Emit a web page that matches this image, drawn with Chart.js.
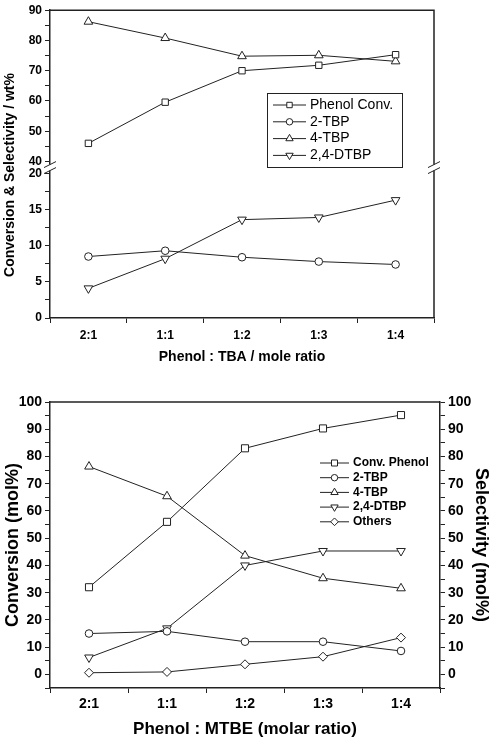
<!DOCTYPE html>
<html>
<head>
<meta charset="utf-8">
<script src="https://cdn.jsdelivr.net/npm/chart.js@4"></script>
<style>
  html, body { margin: 0; padding: 0; background: #fff; }
  #wrap { position: relative; width: 490px; height: 741px; }
  canvas { position: absolute; left: 0; }
  #topChart { top: 0; }
  #bottomChart { top: 375px; }
</style>
</head>
<body>
<div id="wrap">
  <canvas id="topChart" width="490" height="375"></canvas>
  <canvas id="bottomChart" width="490" height="366"></canvas>
</div>
<script>
const ratios = ["2:1", "1:1", "1:2", "1:3", "1:4"];

// top panel: Phenol : TBA, wt%
const tbaPhenolConv = [46, 59.6, 70, 71.8, 75.3];
const tba2TBP = [8.5, 9.3, 8.4, 7.8, 7.4];
const tba4TBP = [86.2, 80.8, 74.8, 75.1, 73.1];
const tbaDTBP = [4.1, 8.2, 13.6, 13.9, 16.3];

// broken y axis of the top panel: lower part 0-20, upper part 40-90
const lowTicks = [0, 2.5, 5, 7.5, 10, 12.5, 15, 17.5, 20];
const highTicks = [40, 45, 50, 55, 60, 65, 70, 75, 80, 85, 90];

// bottom panel: Phenol : MTBE, mol%
const mtbeConvPhenol = [32, 56, 83, 90.3, 95.2];
const mtbe2TBP = [15, 15.8, 12, 12, 8.6];
const mtbe4TBP = [76.3, 65.4, 43.6, 35.3, 31.6];
const mtbeDTBP = [6.2, 16.9, 40, 45.3, 45.3];
const mtbeOthers = [0.6, 0.9, 3.7, 6.5, 13.5];

const FONT = "'Liberation Sans', Arial, sans-serif";
const INK = "#222";

function series(label, data, axis, style, radius, rotation) {
  return {
    label, data, yAxisID: axis,
    borderColor: INK, borderWidth: 1, backgroundColor: "#fff",
    pointStyle: style, pointRadius: radius, pointRotation: rotation || 0,
    pointBorderWidth: 1, pointBorderColor: INK, pointBackgroundColor: "#fff",
    tension: 0
  };
}

function yAxis(opts) {
  return Object.assign({
    type: "linear",
    border: { color: INK, width: 1.5 },
    grid: { drawOnChartArea: false, tickLength: 5, tickColor: INK, tickWidth: 1 },
    ticks: { color: "#000", padding: 3, autoSkip: false, font: { family: FONT, weight: "bold", size: 12 } }
  }, opts);
}

function drawLegend(chart, x0, y0, dy, lineLen, font) {
  const { ctx } = chart;
  chart.data.datasets.forEach((ds, i) => {
    const y = y0 + i * dy;
    ctx.strokeStyle = INK;
    ctx.lineWidth = 1;
    ctx.beginPath();
    ctx.moveTo(x0, y);
    ctx.lineTo(x0 + lineLen, y);
    ctx.stroke();
    ctx.fillStyle = "#fff";
    Chart.helpers.drawPoint(ctx, {
      pointStyle: ds.pointStyle, radius: ds.pointRadius * 0.85,
      rotation: ds.pointRotation || 0, borderWidth: 1
    }, x0 + lineLen / 2, y);
    ctx.fillStyle = "#000";
    ctx.font = font;
    ctx.textBaseline = "middle";
    ctx.textAlign = "left";
    ctx.fillText(ds.label, x0 + lineLen + 4, y);
  });
}

// frame, axis break, y title and legend of the top panel
const topExtras = {
  id: "topExtras",
  afterDraw(chart) {
    const { ctx, chartArea: a } = chart;
    ctx.save();
    ctx.strokeStyle = INK;
    ctx.lineWidth = 1.5;
    ctx.beginPath();
    ctx.moveTo(a.left, a.top);
    ctx.lineTo(a.right, a.top);
    ctx.lineTo(a.right, a.bottom);
    ctx.stroke();

    const yb = chart.scales.yLow.top;
    [a.left, a.right].forEach(x => {
      ctx.fillStyle = "#fff";
      ctx.fillRect(x - 2, yb - 3, 4, 6);
      ctx.lineWidth = 1;
      ctx.beginPath();
      [-3, 3].forEach(d => {
        ctx.moveTo(x - 6, yb + d + 3);
        ctx.lineTo(x + 6, yb + d - 3);
      });
      ctx.stroke();
    });

    ctx.save();
    ctx.translate(10, 175);
    ctx.rotate(-Math.PI / 2);
    ctx.fillStyle = "#000";
    ctx.font = "bold 14px " + FONT;
    ctx.textAlign = "center";
    ctx.textBaseline = "middle";
    ctx.fillText("Conversion & Selectivity / wt%", 0, 0);
    ctx.restore();

    ctx.strokeStyle = INK;
    ctx.lineWidth = 1;
    ctx.strokeRect(267.5, 93.5, 135, 74);
    drawLegend(chart, 273, 105, 16.8, 33, "14px " + FONT);
    ctx.restore();
  }
};

const bottomExtras = {
  id: "bottomExtras",
  afterDraw(chart) {
    const { ctx, chartArea: a } = chart;
    ctx.save();
    ctx.strokeStyle = INK;
    ctx.lineWidth = 1.5;
    ctx.beginPath();
    ctx.moveTo(a.left, a.top);
    ctx.lineTo(a.right, a.top);
    ctx.stroke();
    drawLegend(chart, 320, 88, 14.7, 29, "bold 12px " + FONT);
    ctx.restore();
  }
};

const xBase = (height, font, labelPad) => ({
  type: "category",
  offset: true,
  border: { color: INK, width: 1.5 },
  grid: { offset: true, drawOnChartArea: false, tickLength: 5, tickColor: INK },
  ticks: { color: "#000", padding: labelPad, font: { family: FONT, weight: "bold", size: font } },
  afterFit: s => { s.height = height; }
});

new Chart(document.getElementById("topChart"), {
  type: "line",
  data: {
    labels: ratios,
    datasets: [
      series("Phenol Conv.", tbaPhenolConv, "yHigh", "rect", 4.5),
      series("2-TBP", tba2TBP, "yLow", "circle", 3.8),
      series("4-TBP", tba4TBP, "yHigh", "triangle", 5),
      series("2,4-DTBP", tbaDTBP, "yLow", "triangle", 5, 180)
    ]
  },
  options: {
    responsive: false,
    animation: false,
    events: [],
    layout: { padding: { top: 7, right: 56, left: 0, bottom: 0 } },
    plugins: { legend: { display: false }, tooltip: { enabled: false } },
    scales: {
      x: Object.assign(xBase(57, 12, 5), {
        title: { display: true, text: "Phenol : TBA / mole ratio", color: "#000",
          font: { family: FONT, weight: "bold", size: 14, lineHeight: 1 }, padding: { top: 0, bottom: 11 } }
      }),
      yLow: yAxis({
        position: "left", stack: "tba", stackWeight: 152,
        min: 0, max: 20.8,
        ticks: Object.assign(yAxis({}).ticks, { callback: v => v % 5 === 0 ? v : "" }),
        afterBuildTicks: s => { s.ticks = lowTicks.map(v => ({ value: v })); },
        afterFit: s => { s.width = 50; }
      }),
      yHigh: yAxis({
        position: "left", stack: "tba", stackWeight: 159,
        min: 38, max: 90,
        ticks: Object.assign(yAxis({}).ticks, { callback: v => v % 10 === 0 ? v : "" }),
        afterBuildTicks: s => { s.ticks = highTicks.map(v => ({ value: v })); },
        afterFit: s => { s.width = 50; }
      })
    }
  },
  plugins: [topExtras]
});

const pctTicks = Object.assign(yAxis({}).ticks, {
  stepSize: 5, padding: 3, font: { family: FONT, weight: "bold", size: 14 },
  callback: v => v % 10 === 0 && v >= 0 ? v : ""
});

new Chart(document.getElementById("bottomChart"), {
  type: "line",
  data: {
    labels: ratios,
    datasets: [
      series("Conv. Phenol", mtbeConvPhenol, "y", "rect", 5),
      series("2-TBP", mtbe2TBP, "y", "circle", 3.8),
      series("4-TBP", mtbe4TBP, "y", "triangle", 5),
      series("2,4-DTBP", mtbeDTBP, "y", "triangle", 5, 180),
      series("Others", mtbeOthers, "y", "rectRot", 4.5)
    ]
  },
  options: {
    responsive: false,
    animation: false,
    events: [],
    layout: { padding: { top: 27, right: 0, left: 0, bottom: 0 } },
    plugins: { legend: { display: false }, tooltip: { enabled: false } },
    scales: {
      x: Object.assign(xBase(53, 14, 3), {
        title: { display: true, text: "Phenol : MTBE (molar ratio)", color: "#000",
          font: { family: FONT, weight: "bold", size: 17, lineHeight: 1 }, padding: { top: 0, bottom: 3 } }
      }),
      y: yAxis({
        position: "left", min: -5, max: 100, ticks: pctTicks,
        title: { display: true, text: "Conversion (mol%)", color: "#000",
          font: { family: FONT, weight: "bold", size: 18, lineHeight: 1 }, padding: { top: 4, bottom: 0 } },
        afterFit: s => { s.width = 50; }
      }),
      y2: yAxis({
        position: "right", min: -5, max: 100, ticks: pctTicks,
        title: { display: true, text: "Selectivity (mol%)", color: "#000",
          font: { family: FONT, weight: "bold", size: 18, lineHeight: 1 }, padding: { top: 0, bottom: 0 } },
        afterFit: s => { s.width = 50; }
      })
    }
  },
  plugins: [bottomExtras]
});
</script>
</body>
</html>
